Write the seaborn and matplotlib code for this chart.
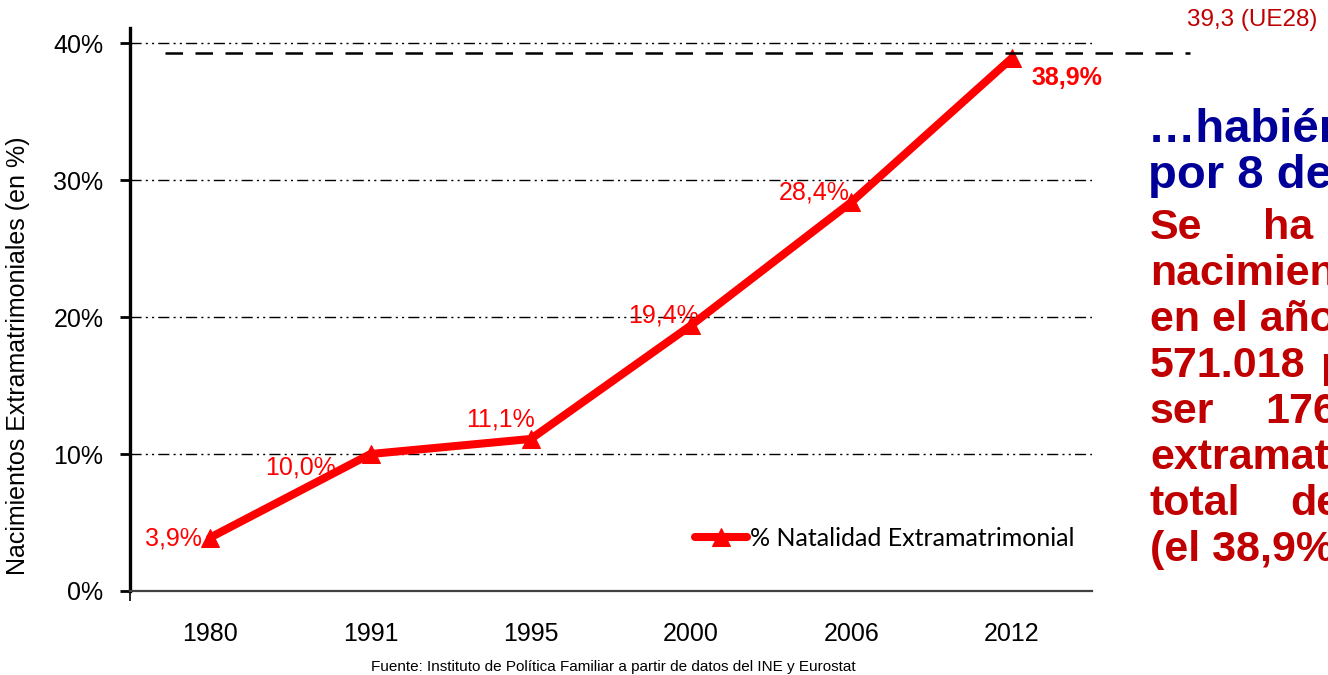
import matplotlib
matplotlib.use("Agg")
import matplotlib.pyplot as plt
import matplotlib.transforms as mtransforms
import seaborn as sns
import pandas as pd

# ---- data ----
years = ["1980", "1991", "1995", "2000", "2006", "2012"]
pct = [3.9, 10.0, 11.1, 19.4, 28.4, 38.9]
labels = ["3,9%", "10,0%", "11,1%", "19,4%", "28,4%", "38,9%"]
series_name = "% Natalidad Extramatrimonial"
eu_value = 39.3
eu_label = "39,3 (UE28)"
yticks = [0, 10, 20, 30, 40]
ytick_labels = ["0%", "10%", "20%", "30%", "40%"]
ylabel = "Nacimientos Extramatrimoniales (en %)"
source = "Fuente: Instituto de Política Familiar a partir de datos del INE y Eurostat"

# label offsets (points) and styles
label_offsets = [(-6, -1), (-50, -9.5), (-22, 14), (-20, 7), (-27, 6.5), (40, -14.5)]
label_ha = ["right", "center", "center", "center", "center", "center"]
label_bold = [False, False, False, False, False, True]

sns.set_style("white")
plt.rcParams["font.family"] = ["Liberation Sans", "DejaVu Sans"]
for k in ["text.color", "axes.labelcolor", "xtick.color", "ytick.color"]:
    plt.rcParams[k] = "black"

W, H = 1328, 675
fig = plt.figure(figsize=(W / 100, H / 100), dpi=100)
ax = fig.add_axes([130 / W, 84 / H, (1092 - 130) / W, (647 - 84) / H])

df = pd.DataFrame({"year": years, "pct": pct})
RED = "#FF0000"
sns.lineplot(data=df, x="year", y="pct", ax=ax, color=RED, linewidth=5.8,
             marker="^", markersize=13, markeredgecolor=RED, markerfacecolor=RED,
             label=series_name, sort=False)

ax.set_xlim(-0.5, len(years) - 0.5)
ax.set_ylim(0, 41.1)
ax.set_yticks(yticks)
ax.set_yticklabels(ytick_labels, fontsize=18)
ax.set_xticks(range(len(years)))
ax.set_xticklabels(years, fontsize=18)
ax.set_xlabel("")
ax.set_ylabel(ylabel, fontsize=18)
ax.yaxis.set_label_coords(-0.104, 0.417)
ax.tick_params(axis="x", length=0, pad=22)
ax.tick_params(axis="y", length=7, width=2, direction="out", pad=12, color="black", left=True)
ax.set_xticks([-0.5], minor=True)
ax.tick_params(axis="x", which="minor", length=7, width=1.2, direction="out", color="black", bottom=True)

# grid lines (dash-dot-dot)
for v in yticks[1:]:
    ax.axhline(v, color="black", linewidth=1.0, dashes=(8, 3, 1.5, 3, 1.5, 3), zorder=1)

for s in ["top", "right"]:
    ax.spines[s].set_visible(False)
ax.spines["left"].set_linewidth(2.4)
ax.spines["left"].set_color("black")
ax.spines["bottom"].set_linewidth(1.6)
ax.spines["bottom"].set_color("#404040")

# data labels
for i, (lab, off, ha, b) in enumerate(zip(labels, label_offsets, label_ha, label_bold)):
    ax.annotate(lab, (i, pct[i]), xytext=off, textcoords="offset points",
                ha=ha, va="center", color=RED, fontsize=18,
                fontweight="bold" if b else "normal", zorder=5)

# EU reference dashed line
trans = mtransforms.blended_transform_factory(fig.transFigure, ax.transData)
ax.plot([165 / W, 1190 / W], [eu_value, eu_value], transform=trans, color="black",
        linewidth=1.8, dashes=(7, 5), clip_on=False, zorder=4)
fig.text(1187 / W, 1 - 20 / H, eu_label, color="#C00000", fontsize=17.5,
         ha="left", va="center")

# legend
leg = ax.legend(loc="center left", bbox_to_anchor=(0.587, 0.093), frameon=False,
                prop={"family": "Lato", "size": 18}, handlelength=2.1,
                handletextpad=0.1, borderpad=0, borderaxespad=0)

# source
fig.text(613 / W, 1 - 667 / H, source, fontsize=11, ha="center", va="center",
         family=["Liberation Sans Narrow", "Liberation Sans"])

# side text (clipped by figure edge)
BLUE = "#000099"
DRED = "#C00000"
fig.text(1148 / W, 1 - 142 / H, "…habiéndose multiplicado", color=BLUE, fontsize=34,
         fontweight="bold", ha="left", va="baseline")
fig.text(1148 / W, 1 - 188 / H, "por 8 desde 1980", color=BLUE, fontsize=34,
         fontweight="bold", ha="left", va="baseline")

red_lines = [
    [(1150, "Se"), (1263, "ha")],
    [(1150, "nacimientos")],
    [(1150, "en el año 1980 eran")],
    [(1150, "571.018"), (1320, "pasando")],
    [(1150, "ser"), (1265, "176.858")],
    [(1150, "extramatrimoniales")],
    [(1150, "total"), (1290, "del")],
    [(1150, "(el 38,9%)")],
]
for k, words in enumerate(red_lines):
    yb = 239 + 46 * k
    for xp, w in words:
        fig.text(xp / W, 1 - yb / H, w, color=DRED, fontsize=31, fontweight="bold",
                 ha="left", va="baseline")

fig.savefig("out.png", dpi=100, facecolor="white")
